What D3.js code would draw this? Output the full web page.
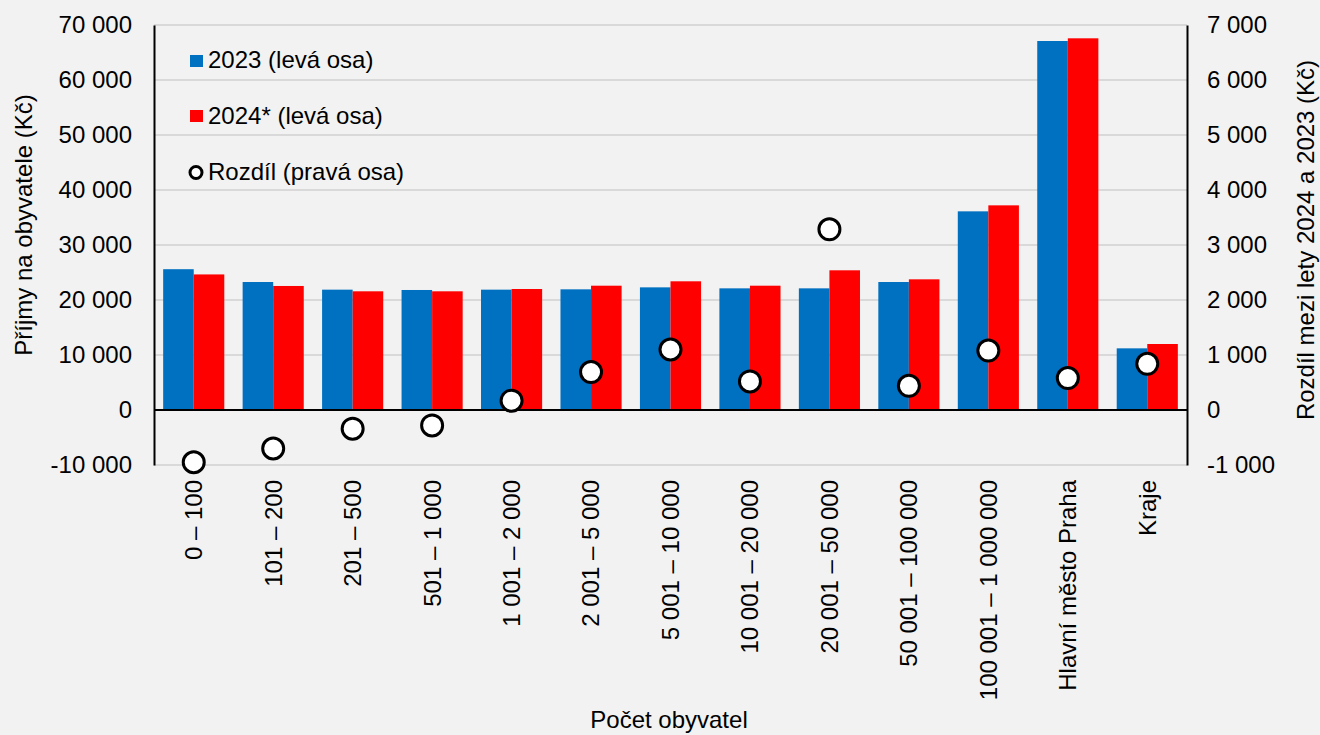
<!DOCTYPE html>
<html>
<head>
<meta charset="utf-8">
<script src="https://cdn.jsdelivr.net/npm/d3@7"></script>
<style>
  body { margin: 0; background: #f2f2f2; }
  svg { font-family: "Liberation Sans", Arial, sans-serif; }
</style>
</head>
<body>
<svg id="chart" width="1320" height="735"></svg>
<script>
// data
const categories = ["0 – 100", "101 – 200", "201 – 500", "501 – 1 000", "1 001 – 2 000",
    "2 001 – 5 000", "5 001 – 10 000", "10 001 – 20 000", "20 001 – 50 000",
    "50 001 – 100 000", "100 001 – 1 000 000", "Hlavní město Praha", "Kraje"];
const values2023 = [25600, 23270, 21880, 21820, 21880, 21940, 22300, 22120, 22120, 23270, 36120, 67090, 11210];
const values2024 = [24650, 22550, 21580, 21580, 22000, 22600, 23400, 22600, 25400, 23760, 37210, 67580, 12000];
const diffs = [-950, -700, -340, -280, 170, 690, 1100, 520, 3285, 440, 1080, 580, 840];
const leftTicks = [-10000, 0, 10000, 20000, 30000, 40000, 50000, 60000, 70000];
const rightTicks = [-1000, 0, 1000, 2000, 3000, 4000, 5000, 6000, 7000];

(function () {
    const svg = d3.select("#chart");
    const left = 154, right = 1187, top = 25, bottom = 465;
    const fs = 24;

    // thousands separated by space, plain hyphen for minus
    const fmt = v => d3.format(",")(v).replace(/,/g, " ").replace("−", "-");

    const x = d3.scaleBand().domain(categories).range([left, right]).paddingInner(0).paddingOuter(0);
    const x1 = d3.scaleBand().domain(["a", "b"]).range([0, x.bandwidth()]).paddingInner(0).paddingOuter(0.3);
    const yL = d3.scaleLinear().domain([-10000, 70000]).range([bottom, top]);
    const yR = d3.scaleLinear().domain([-1000, 7000]).range([bottom, top]);

    //gridlines
    svg.append("g").selectAll("line")
        .data(leftTicks.filter(d => d !== 0))
        .join("line")
        .attr("x1", left).attr("x2", right)
        .attr("y1", d => yL(d)).attr("y2", d => yL(d))
        .attr("stroke", "#d9d9d9").attr("stroke-width", 2);

    //bars
    const groups = svg.append("g").selectAll("g")
        .data(categories)
        .join("g")
        .attr("transform", d => `translate(${x(d)},0)`);
    groups.append("rect")
        .attr("x", x1("a"))
        .attr("width", x1.bandwidth())
        .attr("y", (d, i) => yL(values2023[i]))
        .attr("height", (d, i) => yL(0) - yL(values2023[i]))
        .attr("fill", "#0070c0");
    groups.append("rect")
        .attr("x", x1("b"))
        .attr("width", x1.bandwidth())
        .attr("y", (d, i) => yL(values2024[i]))
        .attr("height", (d, i) => yL(0) - yL(values2024[i]))
        .attr("fill", "#ff0000");

    //zero line + axes lines
    svg.append("line").attr("x1", left).attr("x2", right)
        .attr("y1", yL(0)).attr("y2", yL(0)).attr("stroke", "#000").attr("stroke-width", 2);

    const axL = svg.append("g").attr("transform", `translate(${left},0)`)
        .call(d3.axisLeft(yL).tickValues(leftTicks).tickSize(0).tickPadding(22).tickFormat(fmt));
    const axR = svg.append("g").attr("transform", `translate(${right},0)`)
        .call(d3.axisRight(yR).tickValues(rightTicks).tickSize(0).tickPadding(20).tickFormat(fmt));
    [axL, axR].forEach(a => {
        a.select(".domain").attr("stroke", "#000").attr("stroke-width", 2);
        a.selectAll("text").attr("font-size", fs).attr("fill", "#000")
            .attr("font-family", "Liberation Sans, Arial, sans-serif");
    });

    //diff points
    svg.append("g").selectAll("circle")
        .data(diffs)
        .join("circle")
        .attr("cx", (d, i) => x(categories[i]) + x.bandwidth() / 2)
        .attr("cy", d => yR(d))
        .attr("r", 10.5)
        .attr("fill", "#fff")
        .attr("stroke", "#000")
        .attr("stroke-width", 3);

    //category labels
    svg.append("g").selectAll("text")
        .data(categories)
        .join("text")
        .attr("transform", d => `translate(${x(d) + x.bandwidth() / 2},480) rotate(-90)`)
        .attr("text-anchor", "end")
        .attr("dy", "0.35em")
        .attr("font-size", fs)
        .text(d => d);

    //axis titles
    svg.append("text").attr("x", 669).attr("y", 728).attr("text-anchor", "middle")
        .attr("font-size", fs).text("Počet obyvatel");
    svg.append("text").attr("transform", "translate(32,225) rotate(-90)").attr("text-anchor", "middle")
        .attr("font-size", fs).text("Příjmy na obyvatele (Kč)");
    svg.append("text").attr("transform", "translate(1314,240) rotate(-90)").attr("text-anchor", "middle")
        .attr("font-size", fs).text("Rozdíl mezi lety 2024 a 2023 (Kč)");

    //legend
    const legend = svg.append("g");
    legend.append("rect").attr("x", 190).attr("y", 55).attr("width", 13).attr("height", 12).attr("fill", "#0070c0");
    legend.append("text").attr("x", 208).attr("y", 68).attr("font-size", fs).text("2023 (levá osa)");
    legend.append("rect").attr("x", 190).attr("y", 110).attr("width", 13).attr("height", 12).attr("fill", "#ff0000");
    legend.append("text").attr("x", 208).attr("y", 124).attr("font-size", fs).text("2024* (levá osa)");
    legend.append("circle").attr("cx", 196).attr("cy", 172.5).attr("r", 6)
        .attr("fill", "#fff").attr("stroke", "#000").attr("stroke-width", 3);
    legend.append("text").attr("x", 208).attr("y", 180).attr("font-size", fs).text("Rozdíl (pravá osa)");
})();
</script>
</body>
</html>
